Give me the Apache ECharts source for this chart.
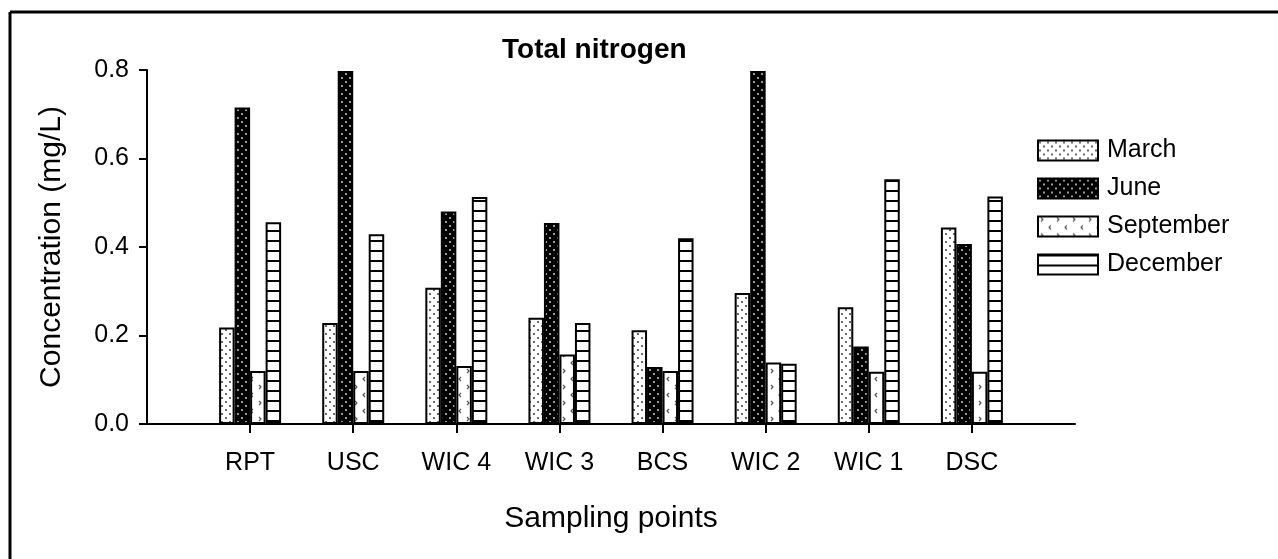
<!DOCTYPE html>
<html>
<head>
<meta charset="utf-8">
<script src="https://cdn.jsdelivr.net/npm/echarts@6/dist/echarts.min.js"></script>
<style>
html,body{margin:0;padding:0;background:#fff;}
#chart{width:1278px;height:559px;}
</style>
</head>
<body>
<div id="chart"></div>
<script>
const categories = ['RPT', 'USC', 'WIC 4', 'WIC 3', 'BCS', 'WIC 2', 'WIC 1', 'DSC'];
const march = [0.218, 0.228, 0.308, 0.240, 0.212, 0.296, 0.264, 0.444];
const june = [0.715, 0.798, 0.480, 0.454, 0.129, 0.798, 0.175, 0.407];
const september = [0.120, 0.120, 0.131, 0.157, 0.120, 0.139, 0.118, 0.118];
const december = [0.456, 0.429, 0.513, 0.228, 0.420, 0.136, 0.553, 0.514];
const seriesNames = ['March', 'June', 'September', 'December'];
const yTicks = [0, 0.2, 0.4, 0.6, 0.8];

function makePattern(kind) {
  const c = document.createElement('canvas');
  const ctx = c.getContext('2d');
  if (kind === 'march') {
    c.width = 8; c.height = 8;
    ctx.fillStyle = '#fff'; ctx.fillRect(0, 0, 8, 8);
    ctx.fillStyle = '#6a6a6a';
    ctx.fillRect(1, 1, 2, 2); ctx.fillRect(5, 5, 2, 2);
  } else if (kind === 'june') {
    c.width = 8; c.height = 8;
    ctx.fillStyle = '#000'; ctx.fillRect(0, 0, 8, 8);
    ctx.fillStyle = '#9a9a9a';
    ctx.fillRect(1, 1, 2, 2); ctx.fillRect(5, 5, 2, 2);
  } else if (kind === 'september') {
    c.width = 16; c.height = 16;
    ctx.fillStyle = '#fff'; ctx.fillRect(0, 0, 16, 16);
    ctx.strokeStyle = '#555'; ctx.lineWidth = 1.2;
    ctx.beginPath();
    ctx.moveTo(3, 1); ctx.lineTo(5, 3); ctx.lineTo(3, 5);
    ctx.moveTo(13, 9); ctx.lineTo(11, 11); ctx.lineTo(13, 13);
    ctx.stroke();
  } else {
    c.width = 4; c.height = 10;
    ctx.fillStyle = '#fff'; ctx.fillRect(0, 0, 4, 10);
    ctx.fillStyle = '#000'; ctx.fillRect(0, 0, 4, 2);
  }
  return { image: c, repeat: 'repeat' };
}
const patterns = [makePattern('march'), makePattern('june'), makePattern('september'), makePattern('december')];
const seriesData = [march, june, september, december];

// pad categories with empty slots so the axis runs one band beyond each end
const axisCats = [''].concat(categories, ['']);
const font = "'Liberation Sans', Arial, Helvetica, sans-serif";

const chart = echarts.init(document.getElementById('chart'), null, { renderer: 'canvas' });
chart.setOption({
  animation: false,
  backgroundColor: '#fff',
  title: {
    text: 'Total nitrogen',
    left: 497, top: 31,
    textStyle: { fontFamily: font, fontWeight: 'bold', fontSize: 28, color: '#000' }
  },
  legend: {
    orient: 'vertical',
    left: 1032, top: 133,
    icon: 'rect',
    itemWidth: 60, itemHeight: 20, itemGap: 13,
    data: seriesNames,
    textStyle: { fontFamily: font, fontSize: 25, color: '#000', padding: [0, 0, 0, 4] },
    itemStyle: { borderColor: '#000', borderWidth: 2 }
  },
  grid: { left: 147, right: 203, top: 70, bottom: 135, containLabel: false },
  xAxis: {
    type: 'category',
    data: axisCats,
    boundaryGap: false,
    name: 'Sampling points',
    nameLocation: 'middle',
    nameGap: 80,
    nameTextStyle: { fontFamily: font, fontSize: 30, color: '#000' },
    axisLine: { lineStyle: { color: '#000', width: 2 } },
    axisTick: { show: true, length: 9, inside: false, lineStyle: { color: '#000', width: 2 },
      interval: function (idx) { return idx > 0 && idx < axisCats.length - 1; } },
    axisLabel: { interval: 0, margin: 27, fontFamily: font, fontSize: 25, color: '#000' },
    splitLine: { show: false }
  },
  yAxis: {
    type: 'value',
    min: yTicks[0], max: yTicks[yTicks.length - 1], interval: 0.2,
    name: 'Concentration (mg/L)',
    nameLocation: 'middle',
    nameGap: 80,
    nameTextStyle: { fontFamily: font, fontSize: 30, color: '#000' },
    axisLine: { show: true, lineStyle: { color: '#000', width: 2 } },
    axisTick: { show: true, length: 8, lineStyle: { color: '#000', width: 2 } },
    axisLabel: { margin: 18, fontFamily: font, fontSize: 25, color: '#000',
      formatter: function (v) { return v.toFixed(1); } },
    splitLine: { show: false }
  },
  series: seriesNames.map(function (name, i) {
    return {
      name: name,
      type: 'bar',
      barWidth: 15.5,
      barGap: '0%',
      data: [null].concat(seriesData[i], [null]),
      itemStyle: { color: patterns[i], borderColor: '#000', borderWidth: 2 }
    };
  }),
  graphic: [
    { type: 'line', shape: { x1: 10, y1: 12, x2: 1278, y2: 12 }, style: { stroke: '#000', lineWidth: 3 } },
    { type: 'line', shape: { x1: 10, y1: 12, x2: 10, y2: 559 }, style: { stroke: '#000', lineWidth: 3 } }
  ]
});
</script>
</body>
</html>
